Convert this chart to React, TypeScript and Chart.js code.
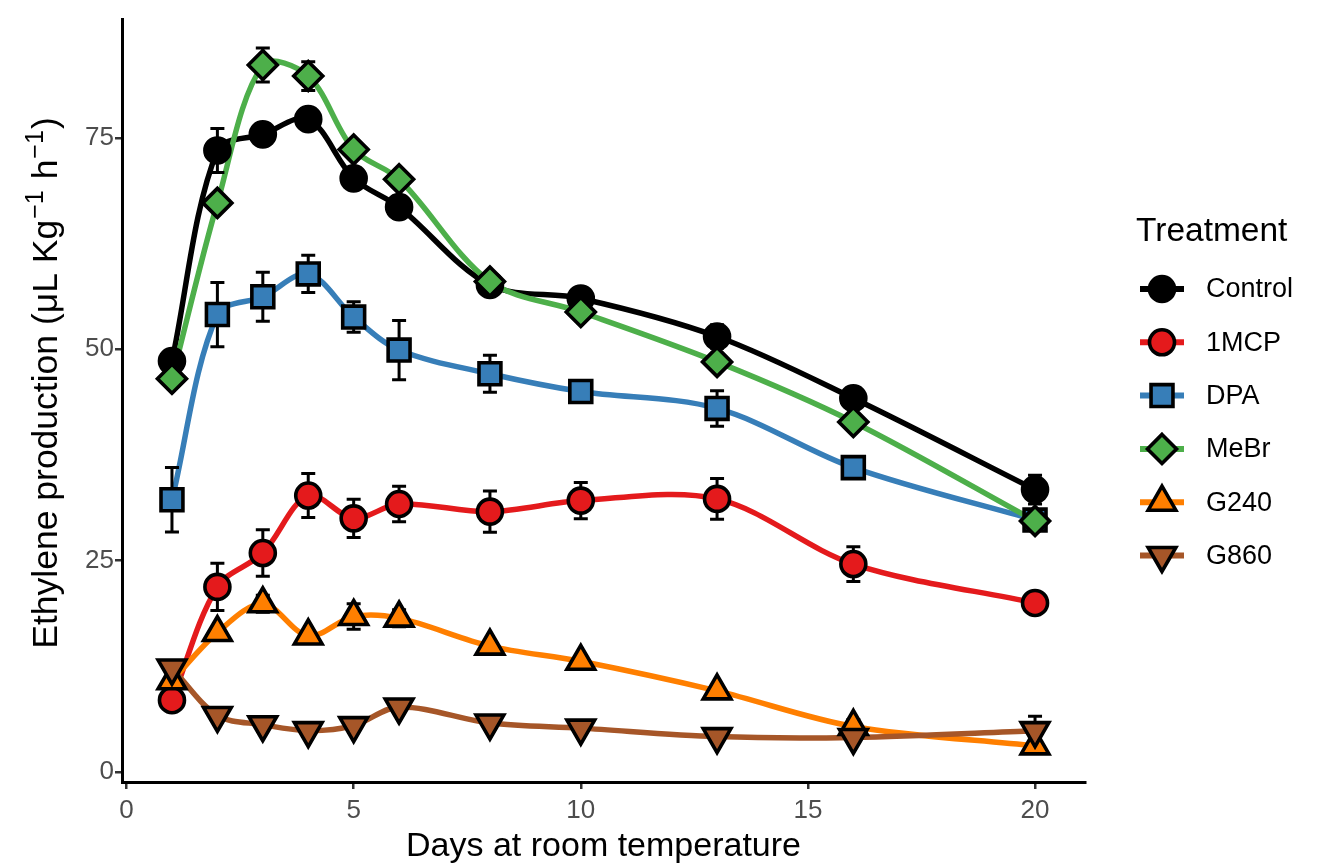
import { useEffect, useRef } from "react";
import { Chart, registerables } from "chart.js";

Chart.register(...registerables);

// ---------------- data ----------------
const DAYS = [1, 2, 3, 4, 5, 6, 8, 10, 13, 16, 20];

const CONTROL = [48.6, 73.5, 75.4, 77.2, 70.2, 66.8, 57.6, 56.0, 51.5, 44.2, 33.4];
const MCP1 = [8.5, 21.9, 25.9, 32.7, 30.0, 31.7, 30.8, 32.1, 32.3, 24.6, 20.0];
const DPA = [32.2, 54.1, 56.2, 58.9, 53.8, 49.9, 47.1, 45.0, 43.0, 36.0, 29.8];
const MEBR = [46.5, 67.3, 83.6, 82.3, 73.6, 70.1, 58.0, 54.4, 48.5, 41.4, 29.7];
const G240 = [10.8, 16.5, 19.9, 16.1, 18.4, 18.2, 14.9, 13.1, 9.6, 5.4, 3.1];
const G860 = [12.3, 6.7, 5.6, 4.9, 5.5, 7.7, 5.8, 5.2, 4.2, 4.1, 4.9];

const CONTROL_ERR = [0.6, 2.6, 1.3, 0.8, 0.9, 1.3, 0.6, 0.5, 1.4, 0.9, 1.7];
const MCP1_ERR = [0.5, 2.8, 2.75, 2.6, 2.25, 2.1, 2.45, 2.15, 2.4, 2.05, 0.5];
const DPA_ERR = [3.8, 3.8, 2.9, 2.2, 1.8, 3.5, 2.2, 0.8, 2.1, 0.7, 0.5];
const MEBR_ERR = [0.5, 0.8, 2.0, 1.7, 0.9, 0.9, 0.7, 0.6, 0.6, 0.6, 0.6];
const G240_ERR = [0.5, 0.6, 1.0, 0.5, 1.5, 1.0, 0.5, 0.5, 0.5, 0.8, 0.5];
const G860_ERR = [0.5, 0.5, 0.5, 0.5, 0.5, 0.5, 0.5, 0.5, 0.5, 0.5, 1.7];

const SERIES_NAMES = ["Control", "1MCP", "DPA", "MeBr", "G240", "G860"];
const SERIES_VALUES = [CONTROL, MCP1, DPA, MEBR, G240, G860];
const SERIES_ERRORS = [CONTROL_ERR, MCP1_ERR, DPA_ERR, MEBR_ERR, G240_ERR, G860_ERR];

const X_TICKS = [0, 5, 10, 15, 20];
const Y_TICKS = [0, 25, 50, 75];

const X_TITLE = "Days at room temperature";
const LEGEND_TITLE = "Treatment";

// ---------------- styles ----------------
const COLORS = ["#000000", "#E41A1C", "#377EB8", "#4DAF4A", "#FF7F00", "#A65628"];
const STYLES = ["circle", "circle", "rect", "rectRot", "triangle", "triangle"];
const ROTATIONS = [0, 0, 0, 0, 0, 180];
const RADII = [12.5, 12.5, 15.5, 14.5, 16, 16];
const FONT = "'Liberation Sans', Arial, sans-serif";
const LINE_W = 5.5;
const MARK_BW = 3.6;

function drawMarker(ctx: CanvasRenderingContext2D, i: number, x: number, y: number) {
  const r = RADII[i];
  ctx.save();
  ctx.beginPath();
  const st = STYLES[i];
  if (st === "circle") {
    ctx.arc(x, y, r, 0, Math.PI * 2);
  } else if (st === "rect") {
    const h = r * Math.SQRT1_2;
    ctx.rect(x - h, y - h, 2 * h, 2 * h);
  } else if (st === "rectRot") {
    ctx.moveTo(x, y - r);
    ctx.lineTo(x + r, y);
    ctx.lineTo(x, y + r);
    ctx.lineTo(x - r, y);
    ctx.closePath();
  } else {
    const rot = (ROTATIONS[i] * Math.PI) / 180;
    for (let k = 0; k < 3; k++) {
      const a = rot + (k * 2 * Math.PI) / 3;
      const px = x + Math.sin(a) * r;
      const py = y - Math.cos(a) * r;
      if (k === 0) ctx.moveTo(px, py);
      else ctx.lineTo(px, py);
    }
    ctx.closePath();
  }
  ctx.fillStyle = COLORS[i];
  ctx.fill();
  ctx.lineWidth = MARK_BW;
  ctx.strokeStyle = "#000";
  ctx.stroke();
  ctx.restore();
}

const decorPlugin = {
  id: "decor",
  beforeDatasetsDraw(chart: any) {
    chart.$errDrawn = false;
  },
  beforeDatasetDraw(chart: any, args: any) {
    const ds = chart.data.datasets[args.index];
    if (ds.kind !== "points" || chart.$errDrawn) return;
    chart.$errDrawn = true;
    const ctx = chart.ctx as CanvasRenderingContext2D;
    const xs = chart.scales.x;
    const ys = chart.scales.y;
    ctx.save();
    ctx.strokeStyle = "#000";
    ctx.lineWidth = 3;
    ctx.lineCap = "butt";
    for (let i = 0; i < SERIES_VALUES.length; i++) {
      const vals = SERIES_VALUES[i];
      const errs = SERIES_ERRORS[i];
      for (let j = 0; j < DAYS.length; j++) {
        const px = xs.getPixelForValue(DAYS[j]);
        const top = ys.getPixelForValue(vals[j] + errs[j]);
        const bot = ys.getPixelForValue(vals[j] - errs[j]);
        ctx.beginPath();
        ctx.moveTo(px, top);
        ctx.lineTo(px, bot);
        ctx.moveTo(px - 7, top);
        ctx.lineTo(px + 7, top);
        ctx.moveTo(px - 7, bot);
        ctx.lineTo(px + 7, bot);
        ctx.stroke();
      }
    }
    ctx.restore();
  },
  afterDraw(chart: any) {
    const ctx = chart.ctx as CanvasRenderingContext2D;
    const area = chart.chartArea;
    ctx.save();
    // x title
    ctx.fillStyle = "#000";
    ctx.font = `34px ${FONT}`;
    ctx.textAlign = "center";
    ctx.textBaseline = "alphabetic";
    ctx.fillText(X_TITLE, (area.left + area.right) / 2, 856);

    // y title with superscripts
    const parts: [string, boolean][] = [
      ["Ethylene production (\u03bcL Kg", false],
      ["\u22121", true],
      [" h", false],
      ["\u22121", true],
      [")", false],
    ];
    const mainFont = `35.5px ${FONT}`;
    const supFont = `25px ${FONT}`;
    let total = 0;
    const widths = parts.map(([t, sup]) => {
      ctx.font = sup ? supFont : mainFont;
      const w = ctx.measureText(t).width + (sup ? 2 : 0);
      total += w;
      return w;
    });
    ctx.translate(57, 383);
    ctx.rotate(-Math.PI / 2);
    ctx.textAlign = "left";
    let cx = -total / 2;
    parts.forEach(([t, sup], k) => {
      ctx.font = sup ? supFont : mainFont;
      ctx.fillText(t, cx + (sup ? 1 : 0), sup ? -14 : 0);
      cx += widths[k];
    });
    ctx.restore();

    // legend
    ctx.save();
    ctx.fillStyle = "#000";
    ctx.font = `33.5px ${FONT}`;
    ctx.textAlign = "left";
    ctx.textBaseline = "alphabetic";
    ctx.fillText(LEGEND_TITLE, 1136, 241);
    for (let i = 0; i < SERIES_NAMES.length; i++) {
      const y = 289 + i * 53.3;
      ctx.strokeStyle = COLORS[i];
      ctx.lineWidth = LINE_W + 0.5;
      ctx.lineCap = "butt";
      ctx.beginPath();
      ctx.moveTo(1140, y);
      ctx.lineTo(1184, y);
      ctx.stroke();
      drawMarker(ctx, i, 1162, y);
      ctx.fillStyle = "#000";
      ctx.font = `27px ${FONT}`;
      ctx.textBaseline = "middle";
      ctx.fillText(SERIES_NAMES[i], 1206, y + 1);
    }
    ctx.restore();
  },
};

export default function App() {
  const ref = useRef<HTMLCanvasElement>(null);

  useEffect(() => {
    if (!ref.current) return;
    const datasets: any[] = [];
    SERIES_NAMES.forEach((name, i) => {
      const pts = DAYS.map((d, j) => ({ x: d, y: SERIES_VALUES[i][j] }));
      datasets.push({
        kind: "line",
        label: name + " line",
        data: pts,
        borderColor: COLORS[i],
        borderWidth: LINE_W,
        pointRadius: 0,
        tension: 0.33,
        fill: false,
        order: 100 + (5 - i),
      });
      datasets.push({
        kind: "points",
        label: name,
        data: pts,
        showLine: false,
        pointStyle: STYLES[i],
        pointRadius: RADII[i],
        pointRotation: ROTATIONS[i],
        pointBackgroundColor: COLORS[i],
        pointBorderColor: "#000",
        pointBorderWidth: MARK_BW,
        order: 5 - i,
      });
    });

    const chart = new Chart(ref.current, {
      type: "line",
      data: { datasets },
      plugins: [decorPlugin],
      options: {
        animation: false,
        responsive: true,
        maintainAspectRatio: false,
        layout: { padding: { left: 0, top: 14, right: 237, bottom: 0 } },
        plugins: { legend: { display: false }, tooltip: { enabled: false } },
        scales: {
          x: {
            type: "linear",
            min: -0.1,
            max: 21.1,
            afterBuildTicks: (s: any) => {
              s.ticks = X_TICKS.map((v) => ({ value: v }));
            },
            afterFit: (s: any) => {
              s.height = 81;
            },
            grid: {
              drawOnChartArea: false,
              drawTicks: true,
              tickLength: 7,
              color: "#333333",
              lineWidth: 2.5,
            },
            border: { display: true, color: "#000", width: 3 },
            ticks: {
              color: "#4D4D4D",
              font: { size: 26, family: FONT },
              padding: 6,
              maxRotation: 0,
            },
          },
          y: {
            type: "linear",
            min: -1.17,
            max: 88.97,
            afterBuildTicks: (s: any) => {
              s.ticks = Y_TICKS.map((v) => ({ value: v }));
            },
            afterFit: (s: any) => {
              s.width = 122;
            },
            grid: {
              drawOnChartArea: false,
              drawTicks: true,
              tickLength: 7,
              color: "#333333",
              lineWidth: 2.5,
            },
            border: { display: true, color: "#000", width: 3 },
            ticks: {
              color: "#4D4D4D",
              font: { size: 26, family: FONT },
              padding: 1,
            },
          },
        },
      },
    });
    return () => chart.destroy();
  }, []);

  return (
    <div style={{ position: "fixed", left: 0, top: 0, width: 1322, height: 863, background: "#fff" }}>
      <canvas ref={ref} />
    </div>
  );
}
